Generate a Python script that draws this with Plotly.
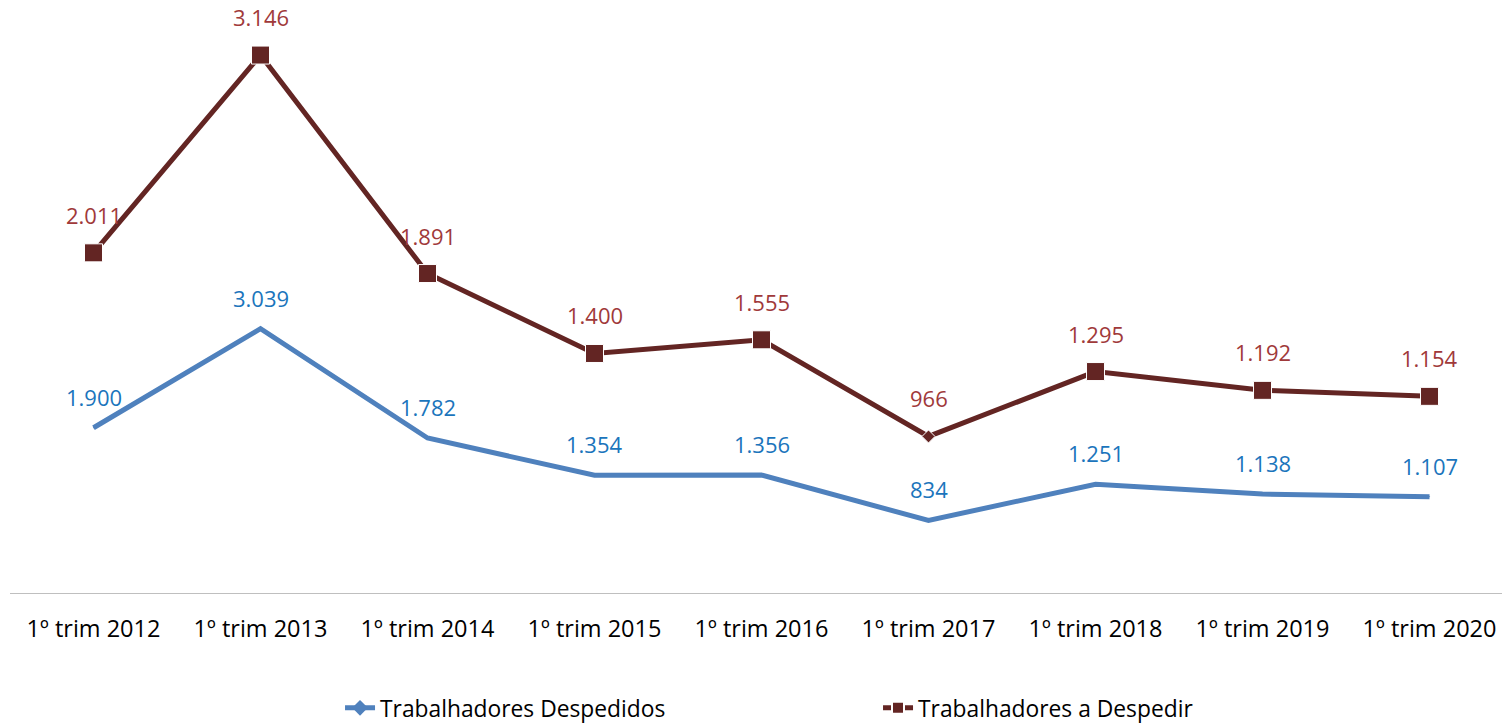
import plotly.graph_objects as go

categories = ["1º trim 2012", "1º trim 2013", "1º trim 2014", "1º trim 2015", "1º trim 2016",
              "1º trim 2017", "1º trim 2018", "1º trim 2019", "1º trim 2020"]
despedidos = [1900, 3039, 1782, 1354, 1356, 834, 1251, 1138, 1107]
a_despedir = [2011, 3146, 1891, 1400, 1555, 966, 1295, 1192, 1154]

BLUE_LINE = "#4F81BD"
RED_LINE = "#632523"
BLUE_TXT = "#1B75BC"
RED_TXT = "#A0393A"
FONT = "Open Sans"

def fmt(v):
    return f"{v:,}".replace(",", ".")

x = list(range(len(categories)))
stacked_red = [a + b for a, b in zip(despedidos, a_despedir)]

fig = go.Figure()
fig.add_trace(go.Scatter(
    x=x, y=despedidos, name="Trabalhadores Despedidos", stackgroup="s", fill="none",
    mode="lines+markers",
    line=dict(color=BLUE_LINE, width=5),
    marker=dict(symbol="diamond", size=1, color=BLUE_LINE, opacity=1),
))
red_symbols = ["square"] * len(x)
red_sizes = [18] * len(x)
red_symbols[5] = "diamond"
red_sizes[5] = 10
fig.add_trace(go.Scatter(
    x=x, y=a_despedir, name="Trabalhadores a Despedir", stackgroup="s", fill="none",
    mode="lines+markers",
    line=dict(color=RED_LINE, width=5),
    marker=dict(symbol=red_symbols, size=red_sizes, color=RED_LINE, opacity=1),
))

for i in x:
    fig.add_annotation(x=i, y=despedidos[i], text=fmt(despedidos[i]), showarrow=False,
                       yshift=31, font=dict(family=FONT, size=22, color=BLUE_TXT))
    fig.add_annotation(x=i, y=stacked_red[i], text=fmt(a_despedir[i]), showarrow=False,
                       yshift=38, font=dict(family=FONT, size=22, color=RED_TXT))

fig.update_layout(
    width=1502, height=723,
    margin=dict(l=10, r=0, t=0, b=130, autoexpand=False),
    plot_bgcolor="white", paper_bgcolor="white",
    font=dict(family=FONT, size=22, color="#000000"),
    showlegend=True,
    legend=dict(orientation="h", x=0.2212, xanchor="left", y=-0.1577, yanchor="top",
                entrywidth=493, entrywidthmode="pixels", itemsizing="constant",
                font=dict(family=FONT, size=22.8, color="#000000")),
    xaxis=dict(range=[-0.5, 8.434], tickmode="array", tickvals=x, ticktext=categories,
               showgrid=False, zeroline=False, showline=True, linecolor="#BFBFBF", linewidth=1,
               ticks="", ticklabelstandoff=15, automargin=False,
               tickfont=dict(family=FONT, size=23.5, color="#000000")),
    yaxis=dict(range=[0, 6818], visible=False, showgrid=False, zeroline=False, automargin=False),
)

fig.write_html("out.html",
               config={"displayModeBar": False},
               post_script="document.body.style.margin='0';document.body.style.padding='0';"
                           "document.body.style.overflow='hidden';")
